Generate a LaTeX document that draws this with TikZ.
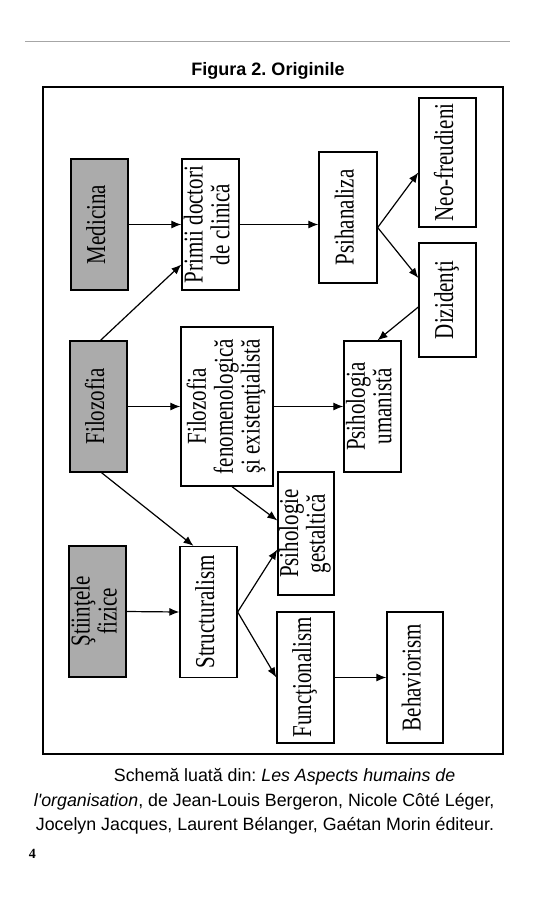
\documentclass[tikz,border=0pt]{standalone}
\usepackage{fontspec}
\setmainfont{Liberation Serif}
\newfontfamily\arialfont{Liberation Sans}
\usetikzlibrary{arrows.meta}
\frenchspacing

\tikzset{
    box/.style={draw, line width=1.3pt, fill=white, inner sep=0pt, minimum width=57, minimum height=131},
    shaded/.style={box, fill=black!33},
    caption/.style={font=\arialfont\fontsize{17.8}{24}\selectfont, anchor=base west},
}
\newcommand{\vlabel}[1]{\rotatebox{90}{\scalebox{1}[1.3]{\fontsize{21}{20}\selectfont\begin{tabular}{@{}c@{}}#1\end{tabular}}}}

\begin{document}
\begin{tikzpicture}[x=1pt, y=-1pt, >={Latex[length=10pt,width=8pt]}, line width=1.2pt]
    \useasboundingbox (0,0) rectangle (539,906);
    \draw[black!35, line width=0.8pt] (25,41) -- (510,41);
    \node[font=\arialfont\bfseries\fontsize{18}{22}\selectfont, anchor=base] (title) at (268,75) {Figura 2. Originile};
    \draw[line width=1.8pt] (43,87) rectangle (503,754);

    \node[shaded]                                   (med)    at (99.5,224.5)  {\vlabel{Medicina}};
    \node[shaded]                                   (filo)   at (98.5,406.5)  {\vlabel{Filozofia}};
    \node[shaded]                                   (stiinte) at (97.5,611.5) {\vlabel{Ştiinţele\\fizice}};
    \node[box]                                      (prim)   at (210.5,224.5) {\vlabel{Primii doctori\\de clinică}};
    \node[box, minimum width=92, minimum height=159] (fen)   at (227,406.5)   {\vlabel{Filozofia\\fenomenologică\\şi existenţialistă}};
    \node[box]                                      (struct) at (208.5,612)   {\vlabel{Structuralism}};
    \node[box, minimum width=58]                    (psih)   at (348,217.5)   {\vlabel{Psihanaliza}};
    \node[box, minimum height=129]                  (neo)    at (447.5,162.5) {\vlabel{Neo-freudieni}};
    \node[box, minimum height=114]                  (diz)    at (447.5,300)   {\vlabel{Dizidenţi}};
    \node[box]                                      (psu)    at (372.5,406.5) {\vlabel{Psihologia\\umanistă}};
    \node[box, minimum width=56, minimum height=123] (gest)  at (306,533.5)   {\vlabel{Psihologie\\gestaltică}};
    \node[box]                                      (func)   at (305.5,677.5) {\vlabel{Funcţionalism}};
    \node[box, minimum width=56]                    (beh)    at (415,677.5)   {\vlabel{Behaviorism}};

    \path
        (med.east) edge [->] (prim.west)
        (prim.east) edge [->] (prim.east -| psih.west)
        ([yshift=-10]psih.east)
            edge [->] ([yshift=-10]neo.west)
            edge [->] ([yshift=22]diz.west)
        ([yshift=-7]diz.west) edge [->] ([xshift=5]psu.north)
        (filo.east) edge [->] (fen.west)
        (fen.east) edge [->] (psu.west)
        ([xshift=2]filo.north) edge [->] ([yshift=-40]prim.west)
        ([xshift=3]filo.south) edge [->] ([xshift=-15]struct.north)
        ([xshift=5]fen.south) edge [->] ([yshift=13]gest.west)
        (stiinte.east) edge [->] (struct.west)
        (struct.east)
            edge [->] ([yshift=-16]gest.west)
            edge [->] (func.west)
        (func.east) edge [->] (beh.west)
        ;

    \node[caption] (cap1) at (110,781) {Schemă luată din: \textit{Les Aspects humains de}};
    \node[caption] (cap2) at (30,806) {\textit{l'organisation}, de Jean-Louis Bergeron, Nicole Côté Léger,};
    \node[caption] (cap3) at (32,830) {Jocelyn Jacques, Laurent Bélanger, Gaétan Morin éditeur.};
    \node[font=\bfseries\fontsize{14}{16}\selectfont, anchor=base west] (page) at (25,858) {4};
\end{tikzpicture}
\end{document}
